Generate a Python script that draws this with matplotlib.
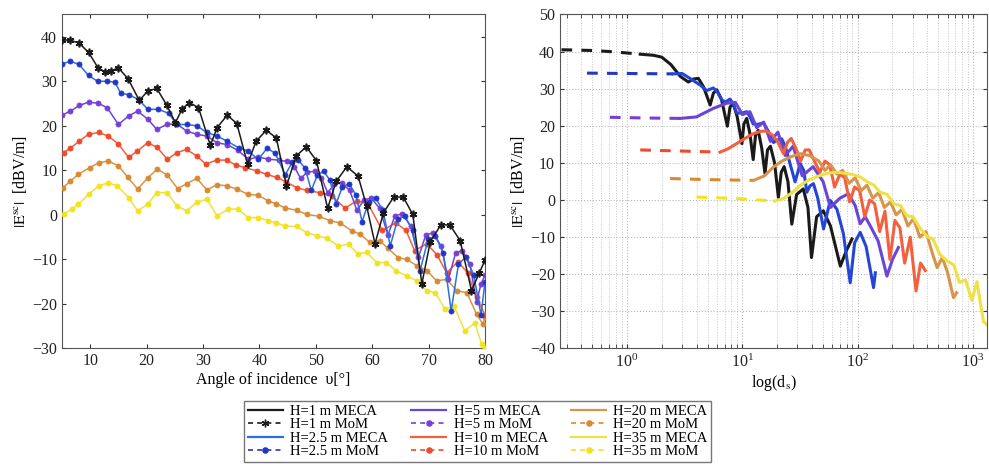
import matplotlib.pyplot as plt
from matplotlib.lines import Line2D
from matplotlib.ticker import LogLocator, NullFormatter

plt.rcParams['font.family'] = 'serif'
plt.rcParams['font.serif'] = ['Liberation Serif', 'DejaVu Serif']
plt.rcParams['mathtext.fontset'] = 'stix'
plt.rcParams['font.size'] = 11.5

heights = ['1', '2.5', '5', '10', '20', '35']
meca_colors = ['#1a1a1a', '#2d6fe0', '#6a46d6', '#f2603e', '#d8944a', '#efe044']
mom_colors = ['#1a1a1a', '#2236c8', '#7a3ed6', '#f04a2a', '#d88a30', '#f2e41a']

# left panel: |E| vs angle of incidence
ang_h1 = [5, 6.5, 8, 9.7, 11.4, 12.6, 13.6, 15, 16.7, 18.7, 20.2, 21.8, 23.6, 25.1, 26.3,
          27.6, 29.2, 31.3, 32.5, 34.3, 36.0, 37.9, 39.4, 41.2, 43.0, 44.8, 46.5, 48.3, 50.1,
          52.1, 53.6, 55.5, 57.5, 59.0, 60.5, 62.0, 63.8, 65.5, 67.2, 68.8, 70.3, 72.2, 73.8,
          75.6, 77.6, 79.0, 80.0]
e_h1 = [39.3, 39.2, 38.6, 36.5, 33.0, 32.1, 32.3, 33.0, 30.6, 25.7, 27.8, 28.4, 24.6, 20.7, 23.8,
        25.2, 24.1, 15.6, 19.6, 22.4, 20.5, 11.4, 16.5, 19.0, 17.3, 6.5, 13.2, 15.3, 12.2,
        1.5, 7.5, 10.8, 8.7, 2.0, -6.5, 0.5, 4.0, 4.0, 0.1, -15.5, -6.0, -2.2, -2.3,
        -5.8, -17.0, -13.0, -10.2]

ang_h2 = [5, 6.5, 8, 9.7, 11.3, 13, 14.4, 15.4, 16.8, 18.6, 20.2, 22.1, 23.9, 25.4, 27.1,
          28.9, 30.7, 32.5, 34.2, 36.3, 38.0, 39.8, 41.4, 42.8, 44.6, 45.8, 46.9, 48.1, 49.2,
          50.3, 51.4, 52.5, 53.6, 54.7, 55.9, 57.1, 58.2, 59.4, 60.6, 61.9, 63.2, 64.5, 65.8,
          67.2, 68.5, 69.9, 71.2, 72.6, 74.0, 75.3, 76.6, 78.0, 79.3, 80.0]
e_h2 = [33.9, 34.5, 33.8, 31.3, 30.0, 30.0, 29.8, 27.3, 27.0, 25.9, 23.7, 23.7, 22.8, 20.3, 20.3,
        20.0, 18.5, 17.7, 16.6, 15.1, 14.3, 12.5, 15.0, 13.8, 9.0, 11.8, 12.3, 10.5, 5.5,
        9.0, 9.8, 7.8, 2.5, 6.3, 7.0, 4.5, -1.5, 3.0, 3.8, 1.0, -7.0, -1.0, -0.3,
        -3.5, -12.5, -5.5, -4.8, -8.5, -21.5, -11.0, -9.5, -13.5, -22.5, -15.0]

ang_h5 = [5, 6.5, 8.1, 9.7, 11.3, 13, 15, 16.8, 18.4, 20.2, 21.8, 23.6, 25.3, 27.1, 28.9,
          30.7, 32.5, 34.2, 36.2, 38, 39.8, 41.6, 43.4, 44.9, 46.2, 47.3, 48.5, 49.8, 51.0,
          52.1, 53.3, 54.6, 56.0, 57.3, 58.5, 59.8, 61.3, 62.8, 64.0, 65.3, 66.8, 68.2, 69.5,
          70.8, 72.2, 73.5, 74.8, 76.0, 77.3, 78.5, 79.3, 80]
e_h5 = [22.4, 23.3, 24.6, 25.3, 25.1, 24.1, 20.3, 22.2, 23.3, 21.5, 19.2, 20.3, 20.5, 18.8, 18.1,
        17.7, 16.2, 15.8, 14.5, 12.5, 13.0, 12.5, 12.3, 12.0, 10.8, 8.2, 9.6, 9.8, 8.3,
        5.0, 6.9, 7.2, 5.5, 1.0, 3.3, 3.8, 1.5, -4.5, -0.3, 0.3, -2.5, -9.5, -4.5,
        -4.0, -7.0, -14.5, -8.5, -8.0, -11.0, -19.5, -15.5, -13.5]

ang_h10 = [5.3, 6.5, 8.1, 9.7, 11.5, 13.2, 15, 16.8, 18.3, 20.2, 21.8, 23.7, 25.4, 27.1, 28.9,
           30.5, 32.4, 34.2, 35.8, 37.5, 39.5, 41.3, 43.1, 44.8, 46.6, 48.4, 50.7, 52.8, 55.2,
           57.3, 59.3, 61.8, 64.2, 66.0, 67.5, 69.7, 71.5, 73.2, 75.2, 76.9, 78.5, 80]
e_h10 = [14.0, 15.0, 16.6, 18.1, 18.5, 17.7, 15.9, 12.9, 14.3, 16.2, 15.2, 12.5, 14.0, 14.7, 13.2,
         11.4, 12.3, 12.3, 11.2, 10.6, 9.9, 9.1, 8.4, 7.4, 6.1, 5.5, 5.0, 4.3, 1.5,
         3.2, 2.4, -3.5, -1.8, -3.5, -8.0, -6.5, -9.0, -13.0, -10.5, -13.0, -18.5, -22.5]

ang_h20 = [5.2, 6.5, 7.9, 9.9, 11.5, 13.2, 15, 16.7, 18.4, 20.2, 21.9, 23.7, 25.5, 27.1, 28.9,
           30.7, 32.5, 34.2, 36, 38, 39.8, 41.6, 43.0, 44.5, 46.6, 48.4, 50.5, 52.5, 54.3,
           56.4, 57.8, 59.6, 61.3, 62.8, 64.6, 66.1, 67.9, 69.7, 71.4, 73.2, 75, 76.8, 78.5,
           79.6, 80]
e_h20 = [6.1, 7.6, 9.1, 10.6, 11.7, 12.1, 11.0, 8.4, 5.8, 8.3, 10.3, 8.9, 5.9, 7.0, 8.2,
         5.6, 6.8, 6.5, 5.8, 4.6, 4.4, 3.1, 2.5, 1.6, 1.0, 0.1, -0.3, -1.3, -1.8,
         -3.6, -4.3, -6.2, -5.8, -7.5, -9.6, -10.0, -11.4, -12.5, -14.8, -14.5, -17.0, -17.5, -22.3,
         -24.5, -23.0]

ang_h35 = [5.3, 6.8, 7.9, 9.7, 11.5, 13.2, 14.8, 16.8, 18.4, 20.2, 21.8, 23.6, 25.4, 27.1, 28.9,
           30.7, 32.5, 34.5, 36.2, 38, 39.8, 41.6, 43.0, 44.5, 46.6, 48.4, 50.2, 51.9, 54,
           55.8, 57.5, 59, 60.8, 62.5, 64.3, 66.1, 67.9, 69.7, 71.2, 72.9, 74.5, 76.4, 78.2,
           79.4, 80]
e_h35 = [0.2, 1.3, 2.4, 4.6, 6.5, 7.2, 6.5, 3.9, 0.9, 2.4, 5.0, 5.0, 2.0, 0.9, 2.8,
         3.5, -0.2, 1.3, 1.3, -0.6, -0.6, -1.3, -1.8, -2.5, -2.6, -4.0, -4.7, -5.2, -7.0,
         -6.6, -8.8, -8.4, -10.7, -10.7, -12.6, -13.7, -14.8, -17.0, -17.5, -21.2, -20.5, -26.0, -24.3,
         -29.0, -30.0]

# right panel: MoM (flat, near field) and MECA vs distance
d_mom_h1, e_mom_h1 = [0.27, 0.5, 0.8, 1.3], [40.5, 40.3, 39.9, 39.3]
d_mom_h2, e_mom_h2 = [0.45, 1.0, 2.5], [34.2, 34.1, 34.0]
d_mom_h5, e_mom_h5 = [0.71, 1.5, 2.9], [22.3, 22.1, 22.0]
d_mom_h10, e_mom_h10 = [1.3, 3.0, 6.4], [13.5, 13.2, 12.9]
d_mom_h20, e_mom_h20 = [2.36, 5.0, 12.5], [5.8, 5.5, 5.3]
d_mom_h35, e_mom_h35 = [4.0, 9.0, 19.0], [0.8, 0.4, -0.3]

d_h1 = [1.3, 1.7, 2.0, 2.4, 2.9, 3.4, 3.75, 4.15, 4.6, 5.25, 5.6, 6.0, 6.6, 7.4, 7.8,
        8.3, 9.0, 9.9, 10.3, 10.9, 11.6, 12.4, 13.0, 13.7, 14.7, 15.7, 16.5, 17.5, 19.0, 20.5,
        21.7, 23.0, 24.8, 26.8, 29.5, 33.7, 37.0, 39.7, 44, 50.3, 58, 70.6, 80, 89]
m_h1 = [39.3, 39.0, 38.5, 36.5, 33.3, 31.8, 32.6, 32.8, 30.5, 25.6, 28.8, 29.7, 27.0, 19.9, 25.0,
        26.1, 22.5, 15.2, 20.5, 22.0, 18.0, 10.9, 17.5, 18.8, 14.0, 7.1, 13.5, 14.5, 10.0, 0.7,
        7.5, 9.0, 5.0, -6.5, 1.5, 3.0, -2.0, -15.5, -4.5, -2.9, -7.0, -17.8, -13.5, -10.5]

d_h2 = [2.5, 3.0, 3.5, 4.3, 4.9, 5.6, 6.1, 6.7, 7.2, 7.8, 8.3, 8.9, 9.8, 10.9, 11.6,
        12.4, 13.6, 15.2, 16.8, 18.6, 20.2, 21.9, 23.5, 25.5, 28.6, 31.7, 34, 36.2, 38.5, 41.3,
        45, 50.5, 57.7, 66, 75, 86, 94, 105, 118, 137, 142]
m_h2 = [34.0, 34.1, 32.8, 31.0, 29.5, 30.2, 29.0, 26.8, 26.5, 27.2, 26.0, 23.5, 23.4, 23.8, 22.5,
        20.5, 20.4, 20.8, 18.5, 15.5, 16.2, 16.5, 14.5, 10.5, 4.9, 9.8, 8.0, 2.1, 3.8, 4.4,
        0.5, -7.8, -0.1, -2.5, -9.0, -22.3, -11.5, -8.7, -12.5, -23.6, -19.6]

d_h5 = [2.9, 4.0, 5.6, 7.3, 8.7, 10.0, 11.6, 13.3, 15.3, 17.5, 20.3, 23.5, 27.5, 33, 41,
        50, 58, 70, 83, 95, 105, 116, 128, 150, 179, 200, 225]
m_h5 = [22.0, 22.4, 24.7, 26.1, 26.3, 23.0, 23.8, 19.5, 21.0, 15.8, 18.3, 12.0, 14.5, 6.5, 9.0,
        5.0, -2.0, 0.5, 1.7, -1.5, -6.4, -4.5, -6.9, -11.0, -20.5, -16.0, -12.8]

d_h10 = [6.4, 7.5, 8.9, 10.5, 12.5, 14.3, 16.2, 18.0, 19.9, 22.7, 24.5, 26.5, 29, 32, 35,
         38, 42, 47, 52, 57, 63, 70, 77, 85, 94, 104, 115, 127, 140, 155,
         172, 190, 210, 232, 255, 285, 320, 350, 385]
m_h10 = [12.9, 13.8, 15.2, 16.6, 17.9, 18.5, 18.6, 17.6, 16.1, 12.5, 15.5, 16.6, 14.0, 10.5, 13.5,
         13.5, 10.5, 7.5, 10.5, 9.5, 3.5, 7.0, 6.0, -0.5, 3.5, 2.5, -4.5, 0.0, -1.0, -8.5,
         -3.0, -16.0, -5.5, -7.5, -17.0, -10.0, -24.5, -17.0, -19.0]

d_h20 = [12.5, 15.5, 18.6, 22, 26, 31.6, 38, 46, 52, 58, 66, 74, 84, 95, 107,
         120, 135, 152, 170, 192, 215, 242, 272, 305, 345, 390, 440, 487, 540, 600, 676, 720]
m_h20 = [5.3, 6.5, 8.9, 10.5, 11.6, 12.5, 12.0, 10.5, 8.0, 9.5, 7.0, 8.0, 4.5, 6.0, 2.5,
         4.0, 0.5, 2.0, -2.0, -0.5, -4.0, -2.5, -7.0, -5.0, -10.0, -8.5, -14.0, -18.2, -15.5, -19.5,
         -26.3, -25.0]

d_h35 = [19, 23, 27, 31.6, 38, 47, 56, 65.8, 78, 92, 105, 120, 138, 156, 180,
         205, 235, 265, 300, 345, 400, 450, 510, 594, 680, 760, 860, 975, 1080, 1160, 1230, 1300]
m_h35 = [-0.3, 0.5, 2.0, 3.9, 5.5, 6.6, 7.3, 7.5, 7.2, 6.8, 6.2, 5.0, 4.0, 2.1, 1.5,
         -1.0, -1.5, -4.2, -4.5, -7.5, -9.9, -10.5, -14.5, -16.4, -17.5, -22.2, -21.5, -27.0, -22.0, -28.0,
         -32.7, -33.5]

left = [(ang_h1, e_h1), (ang_h2, e_h2), (ang_h5, e_h5),
        (ang_h10, e_h10), (ang_h20, e_h20), (ang_h35, e_h35)]
right_mom = [(d_mom_h1, e_mom_h1), (d_mom_h2, e_mom_h2), (d_mom_h5, e_mom_h5),
             (d_mom_h10, e_mom_h10), (d_mom_h20, e_mom_h20), (d_mom_h35, e_mom_h35)]
right_meca = [(d_h1, m_h1), (d_h2, m_h2), (d_h5, m_h5),
              (d_h10, m_h10), (d_h20, m_h20), (d_h35, m_h35)]

fig = plt.figure(figsize=(9.89, 4.72), dpi=100)
ax1 = fig.add_axes([0.0627, 0.2617, 0.4277, 0.7076])
ax2 = fig.add_axes([0.5662, 0.2617, 0.4318, 0.7076])

handles = []
for i in range(6):
    x, y = left[i]
    z = 10 - i
    mk = (6, 2, 0) if i == 0 else 'o'
    ms = 5.5 if i == 0 else 3.7
    ax1.plot(x, y, color=meca_colors[i], lw=1.1, zorder=z)
    ax1.plot(x, y, ls='none', marker=mk, ms=ms, mfc=mom_colors[i], mec=mom_colors[i],
             mew=1.2 if i == 0 else 0.5, zorder=z)
    handles.append(Line2D([], [], color=meca_colors[i], lw=1.6))
    handles.append(Line2D([], [], color=mom_colors[i], lw=1.2, ls=(0, (3, 2.5)), marker=mk,
                          ms=ms, mfc=mom_colors[i], mec=mom_colors[i]))

for i in range(6):
    xm, ym = right_mom[i]
    ax2.plot(xm, ym, color=mom_colors[i], lw=2.2, ls=(0, (3.5, 3)))
    x, y = right_meca[i]
    ax2.plot(x, y, color=meca_colors[i] if i != 1 else '#2346d6', lw=2.2)

ax1.set_xlim(5, 80)
ax1.set_ylim(-30, 45)
ax1.set_xticks(range(10, 81, 10))
ax1.set_yticks(range(-30, 41, 10))
ax1.set_xlabel('Angle of incidence  υ[°]', labelpad=2)
ax1.set_ylabel(r'$|\mathrm{E}^{\mathrm{sc}}|$  [dBV/m]', labelpad=2)

ax2.set_xscale('log')
ax2.set_xlim(0.262, 1320)
ax2.set_ylim(-40, 50)
ax2.set_yticks(range(-40, 51, 10))
ax2.xaxis.set_minor_locator(LogLocator(base=10, subs=range(2, 10)))
ax2.xaxis.set_minor_formatter(NullFormatter())
ax2.grid(True, which='major', ls=':', color='#b8b8b8', lw=0.8)
ax2.grid(True, which='minor', axis='x', ls=':', color='#c8c8c8', lw=0.7)
ax2.set_axisbelow(True)
ax2.set_xlabel(r'log(d$_{\mathrm{s}}$)', labelpad=2)
ax2.set_ylabel(r'$|\mathrm{E}^{\mathrm{sc}}|$  [dBV/m]', labelpad=2)

for ax in (ax1, ax2):
    ax.tick_params(direction='in', top=True, right=True, which='both', length=3,
                   colors='#333333', labelcolor='#222222')
    for s in ax.spines.values():
        s.set_color('#555555')
        s.set_linewidth(0.8)

labels = []
for h in heights:
    labels.append(f'H={h} m MECA')
    labels.append(f'H={h} m MoM')

fig.legend(handles, labels, ncol=3, loc='upper center', bbox_to_anchor=(0.483, 0.165),
           frameon=True, fancybox=False, edgecolor='#555555', fontsize=10.5,
           handlelength=2.4, labelspacing=0.0, columnspacing=1.6, borderpad=0.25,
           handletextpad=0.5, numpoints=1)

fig.savefig('out.png', dpi=100)
